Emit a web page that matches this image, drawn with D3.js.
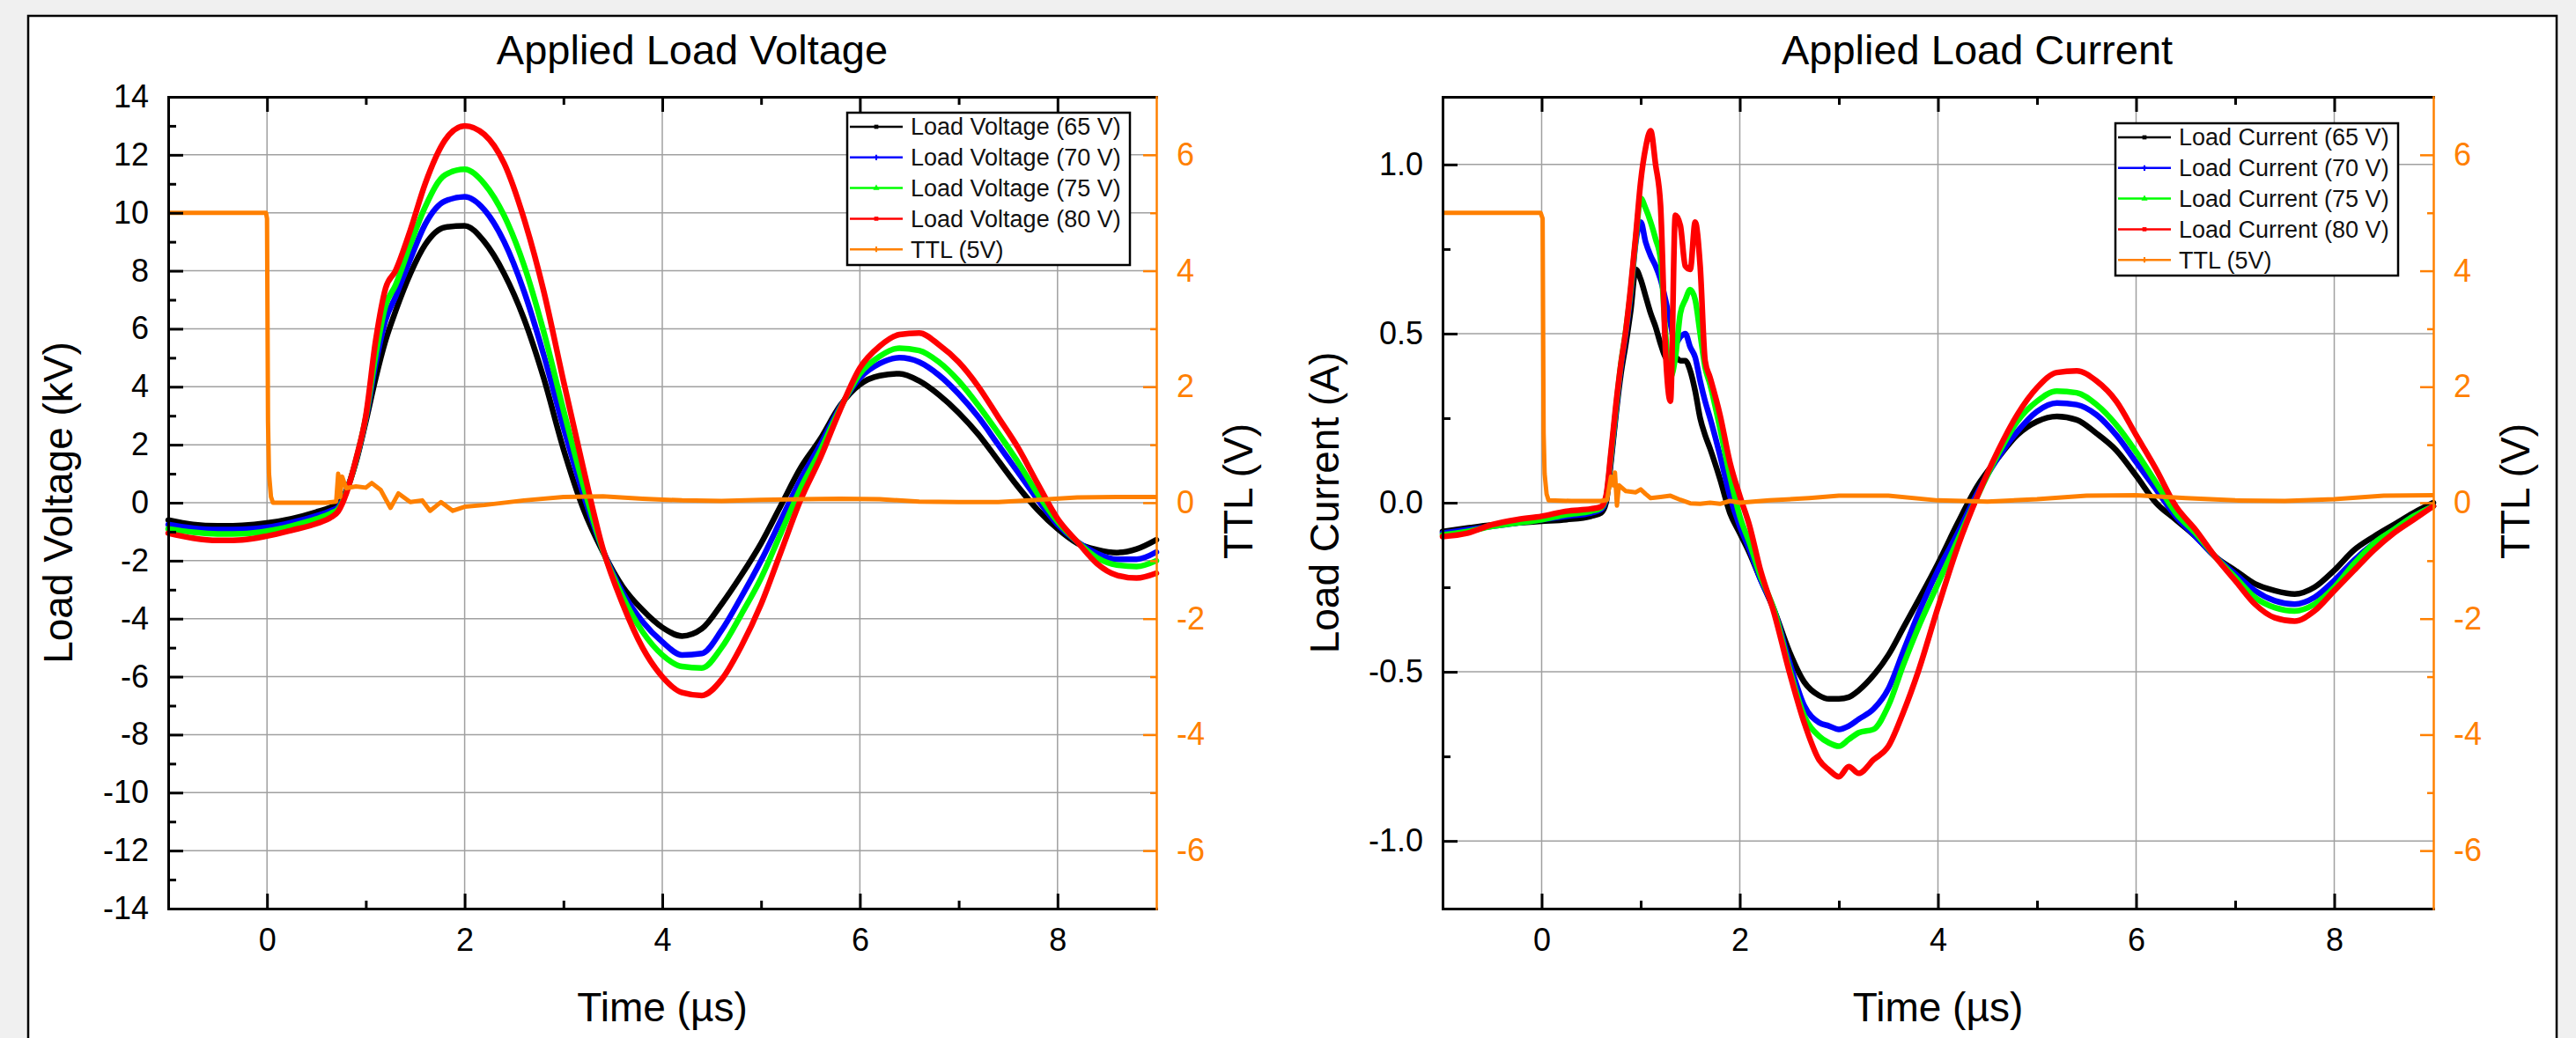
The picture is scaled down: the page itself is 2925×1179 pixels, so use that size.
<!DOCTYPE html>
<html>
<head>
<meta charset="utf-8">
<script src="https://cdn.jsdelivr.net/npm/d3@7"></script>
<style>
body { margin: 0; background: #f0f0f0; }
svg { display: block; }
</style>
</head>
<body>
<svg id="chart" width="2925" height="1179"></svg>
<script>
// ---- voltage panel data (time in us, voltage in kV) ----
var timeV = [-1, -0.75, -0.5, -0.25, 0, 0.25, 0.5, 0.65, 0.72, 0.8, 0.9, 1.0, 1.1, 1.2, 1.3, 1.45, 1.6, 1.8,
  2.0, 2.2, 2.4, 2.6, 2.8, 3.0, 3.2, 3.4, 3.6, 3.8, 4.0, 4.2, 4.4, 4.6, 4.8, 5.0, 5.2, 5.4, 5.6, 5.8,
  6.0, 6.2, 6.4, 6.6, 6.8, 7.0, 7.2, 7.4, 7.6, 7.8, 8.0, 8.2, 8.4, 8.6, 8.8, 9.0];
var volt65 = [-0.6, -0.75, -0.8, -0.78, -0.7, -0.55, -0.32, -0.15, -0.05, 0.4, 1.4, 2.8, 4.3, 5.6, 6.6, 7.9, 8.9, 9.5,
  9.55, 9.0, 7.9, 6.35, 4.3, 1.85, -0.2, -1.7, -2.9, -3.7, -4.3, -4.6, -4.35, -3.5, -2.5, -1.4, -0.1, 1.2, 2.2, 3.35,
  4.08, 4.38, 4.45, 4.2, 3.72, 3.1, 2.35, 1.45, 0.55, -0.25, -0.9, -1.4, -1.62, -1.72, -1.6, -1.28];
var volt70 = [-0.75, -0.88, -0.93, -0.92, -0.85, -0.68, -0.45, -0.27, -0.15, 0.37, 1.45, 2.9, 4.8, 6.3, 7.1, 8.4, 9.6, 10.4,
  10.55, 10.1, 9.0, 7.3, 5.1, 2.6, 0.3, -1.65, -3.1, -4.1, -4.8, -5.25, -5.2, -4.4, -3.25, -2.0, -0.6, 0.8, 2.0, 3.3,
  4.3, 4.8, 5.0, 4.85, 4.4, 3.75, 2.95, 2.0, 1.05, 0.1, -0.75, -1.35, -1.75, -1.95, -1.95, -1.7];
var volt75 = [-0.9, -1.02, -1.08, -1.07, -0.98, -0.8, -0.56, -0.36, -0.22, 0.34, 1.47, 2.95, 5.1, 6.8, 7.5, 8.9, 10.2, 11.3,
  11.5, 11.0, 9.9, 8.2, 5.9, 3.2, 0.6, -1.65, -3.25, -4.45, -5.25, -5.65, -5.7, -5.0, -3.85, -2.6, -1.05, 0.5, 1.8, 3.25,
  4.45, 5.05, 5.33, 5.25, 4.85, 4.2, 3.35, 2.4, 1.4, 0.3, -0.65, -1.35, -1.9, -2.15, -2.2, -2.0];
var volt80 = [-1.05, -1.22, -1.3, -1.28, -1.15, -0.95, -0.72, -0.5, -0.3, 0.3, 1.5, 3.0, 5.6, 7.4, 8.0, 9.4, 11.0, 12.5,
  13.0, 12.7, 11.7, 9.8, 7.3, 4.2, 1.2, -1.6, -3.5, -5.0, -6.0, -6.55, -6.65, -6.1, -4.95, -3.5, -1.7, 0.1, 1.55, 3.2,
  4.65, 5.4, 5.8, 5.85, 5.45, 4.85, 4.0, 2.95, 1.9, 0.65, -0.55, -1.35, -2.1, -2.5, -2.6, -2.43];
var ttlTimeV = [-1, -0.01, 0.0, 0.01, 0.02, 0.04, 0.06, 0.3, 0.6, 0.7, 0.72, 0.74, 0.76, 0.8, 0.9,
  1.0, 1.06, 1.15, 1.25, 1.33, 1.45, 1.57, 1.65, 1.76, 1.88, 2.0, 2.2, 2.6, 3.0, 3.4, 3.8, 4.2, 4.6, 5.0, 5.4,
  5.8, 6.2, 6.6, 7.0, 7.4, 7.8, 8.2, 8.6, 9.0];
var ttlV = [5.0, 5.0, 4.9, 1.4, 0.5, 0.1, 0.0, 0.0, 0.0, 0.02, 0.5, 0.1, 0.45, 0.25, 0.28,
  0.26, 0.34, 0.22, -0.09, 0.16, 0.01, 0.04, -0.14, 0.01, -0.14, -0.07, -0.04, 0.04, 0.1, 0.11, 0.07, 0.04, 0.03, 0.05, 0.06,
  0.07, 0.06, 0.02, 0.01, 0.01, 0.05, 0.09, 0.1, 0.1];

// ---- current panel data (time in us, current in A) ----
var timeI = [-1, -0.75, -0.5, -0.25, 0, 0.25, 0.5,
  0.6, 0.65, 0.7, 0.75, 0.8, 0.85, 0.9, 0.95, 1.0, 1.05, 1.1, 1.15, 1.2, 1.25, 1.3, 1.35, 1.4, 1.45, 1.5, 1.55, 1.6, 1.65, 1.7,
  1.8, 1.9, 2.0, 2.1, 2.2, 2.35, 2.5, 2.65, 2.8, 2.9, 3.0, 3.1, 3.2, 3.35, 3.5, 3.65, 3.8,
  4.0, 4.2, 4.4, 4.6, 4.8, 5.0, 5.2, 5.4, 5.6, 5.8, 6.0, 6.2, 6.4, 6.6, 6.8, 7.0, 7.2, 7.4, 7.6, 7.8, 8.0, 8.2, 8.4, 8.6, 8.8, 9.0];
var curr65 = [-0.085, -0.075, -0.066, -0.06, -0.055, -0.05, -0.04,
  -0.03, 0.0, 0.12, 0.26, 0.38, 0.47, 0.57, 0.69, 0.66, 0.61, 0.56, 0.52, 0.47, 0.43, 0.42, 0.43, 0.42, 0.42, 0.39, 0.33, 0.25, 0.2, 0.16,
  0.07, -0.03, -0.09, -0.15, -0.22, -0.32, -0.44, -0.53, -0.57, -0.58, -0.58, -0.575, -0.555, -0.51, -0.45, -0.37, -0.29,
  -0.18, -0.06, 0.05, 0.13, 0.2, 0.24, 0.255, 0.245, 0.205, 0.155, 0.08, 0.0, -0.05, -0.1, -0.16, -0.2, -0.24, -0.26, -0.27, -0.25, -0.2, -0.14, -0.1, -0.065, -0.03, 0.0];
var curr70 = [-0.09, -0.08, -0.07, -0.06, -0.05, -0.04, -0.03,
  -0.02, 0.01, 0.13, 0.27, 0.4, 0.5, 0.62, 0.77, 0.83, 0.77, 0.73, 0.7, 0.66, 0.6, 0.53, 0.47, 0.49, 0.5, 0.46, 0.43, 0.36, 0.3, 0.25,
  0.14, 0.02, -0.07, -0.14, -0.22, -0.32, -0.47, -0.6, -0.65, -0.66, -0.67, -0.66, -0.64, -0.61, -0.55, -0.44, -0.33,
  -0.2, -0.09, 0.03, 0.13, 0.21, 0.27, 0.295, 0.29, 0.26, 0.2, 0.12, 0.04, -0.04, -0.1, -0.16, -0.21, -0.26, -0.29, -0.3, -0.28, -0.23, -0.17, -0.12, -0.08, -0.04, -0.01];
var curr75 = [-0.095, -0.085, -0.07, -0.06, -0.05, -0.035, -0.025,
  -0.015, 0.015, 0.14, 0.28, 0.41, 0.51, 0.63, 0.78, 0.9, 0.87, 0.83, 0.78, 0.72, 0.5, 0.37, 0.43, 0.56, 0.6, 0.63, 0.6, 0.5, 0.4, 0.35,
  0.22, 0.08, -0.04, -0.12, -0.21, -0.32, -0.49, -0.63, -0.69, -0.71, -0.72, -0.7, -0.68, -0.67, -0.6, -0.48, -0.37,
  -0.24, -0.11, 0.02, 0.14, 0.24, 0.3, 0.33, 0.325, 0.29, 0.23, 0.15, 0.06, -0.03, -0.09, -0.16, -0.22, -0.28, -0.31, -0.32, -0.3, -0.25, -0.18, -0.12, -0.08, -0.04, -0.01];
var curr80 = [-0.10, -0.09, -0.065, -0.05, -0.04, -0.025, -0.018,
  -0.012, 0.02, 0.15, 0.29, 0.41, 0.51, 0.64, 0.79, 0.95, 1.05, 1.1, 1.0, 0.88, 0.45, 0.3, 0.85, 0.82, 0.7, 0.69, 0.83, 0.7, 0.42, 0.37,
  0.26, 0.12, 0.02, -0.07, -0.19, -0.33, -0.5, -0.65, -0.76, -0.79, -0.81, -0.78, -0.8, -0.76, -0.72, -0.62, -0.5,
  -0.31, -0.13, 0.02, 0.15, 0.26, 0.34, 0.385, 0.39, 0.36, 0.3, 0.2, 0.1, -0.01, -0.08, -0.16, -0.23, -0.3, -0.34, -0.35, -0.32, -0.26, -0.2, -0.14, -0.09, -0.05, -0.01];
var ttlTimeI = [-1, -0.01, 0.01, 0.02, 0.03, 0.05, 0.07, 0.3, 0.6, 0.66, 0.7, 0.72, 0.74, 0.76, 0.78,
  0.85, 0.95, 1.0, 1.05, 1.1, 1.2, 1.3, 1.4, 1.5, 1.6, 1.7, 1.8, 1.9, 2.0, 2.3, 2.7, 3.0, 3.5, 4.0, 4.5,
  5.0, 5.5, 6.0, 6.5, 7.0, 7.5, 8.0, 8.5, 9.0];
var ttlI = [5.0, 5.0, 4.9, 1.2, 0.5, 0.15, 0.04, 0.03, 0.03, 0.05, 0.45, 0.3, 0.52, -0.05, 0.3,
  0.2, 0.18, 0.23, 0.15, 0.08, 0.1, 0.12, 0.05, -0.01, -0.02, 0.0, -0.02, 0.03, 0.0, 0.04, 0.08, 0.12, 0.12, 0.04, 0.02,
  0.06, 0.12, 0.13, 0.08, 0.04, 0.03, 0.06, 0.12, 0.13];

// ---- axes, ticks, labels ----
var timeDomain = [-1, 9];
var timeTicks = [0, 2, 4, 6, 8];
var timeMinor = [1, 3, 5, 7];
var ttlDomain = [-7, 7];
var ttlTicks = [-6, -4, -2, 0, 2, 4, 6];
var ttlMinor = [-5, -3, -1, 1, 3, 5];
var voltTicks = [-14, -12, -10, -8, -6, -4, -2, 0, 2, 4, 6, 8, 10, 12, 14];
var voltMinor = [-13, -11, -9, -7, -5, -3, -1, 1, 3, 5, 7, 9, 11, 13];
var currTicks = [-1.0, -0.5, 0.0, 0.5, 1.0];
var currMinor = [-0.75, -0.25, 0.25, 0.75];
var colors = ["#000000", "#0000ff", "#00ff00", "#ff0000"];
var ttlColor = "#ff8000";
var voltNames = ["Load Voltage (65 V)", "Load Voltage (70 V)", "Load Voltage (75 V)", "Load Voltage (80 V)", "TTL (5V)"];
var currNames = ["Load Current (65 V)", "Load Current (70 V)", "Load Current (75 V)", "Load Current (80 V)", "TTL (5V)"];

var FONT = "'Liberation Sans', Arial, Helvetica, sans-serif";
var plotTop = 110, plotBottom = 1032;

var svg = d3.select("#chart");

// outer frame
svg.append("rect").attr("x", 32).attr("y", 18).attr("width", 2871).attr("height", 1200)
  .attr("fill", "#fff").attr("stroke", "#000").attr("stroke-width", 2.5);

function styleAxis(sel, color, width, fontSize) {
  sel.attr("font-family", FONT).attr("font-size", fontSize);
  sel.select(".domain").attr("stroke", color).attr("stroke-width", width).attr("stroke-linecap", "square");
  sel.selectAll(".tick line").attr("stroke", color).attr("stroke-width", width);
  sel.selectAll(".tick text").attr("fill", color);
}

function drawPanel(p) {
  var x = d3.scaleLinear().domain(timeDomain).range([p.left, p.right]);
  var y = d3.scaleLinear().domain(p.yDomain).range([plotBottom, plotTop]);
  var yT = d3.scaleLinear().domain(ttlDomain).range([plotBottom, plotTop]);
  var g = svg.append("g");

  // grid
  g.append("g").selectAll("line").data(timeTicks).join("line")
    .attr("x1", function(d){ return x(d); }).attr("x2", function(d){ return x(d); })
    .attr("y1", plotTop).attr("y2", plotBottom)
    .attr("stroke", "#a0a0a0").attr("stroke-width", 1.5);
  g.append("g").selectAll("line").data(p.yTicks).join("line")
    .attr("x1", p.left).attr("x2", p.right)
    .attr("y1", function(d){ return y(d); }).attr("y2", function(d){ return y(d); })
    .attr("stroke", "#a0a0a0").attr("stroke-width", 1.5);

  // load curves
  var line = d3.line()
    .x(function(d, i){ return x(p.time[i]); })
    .y(function(d){ return y(d); })
    .curve(d3.curveMonotoneX);
  p.series.forEach(function(s, k){
    g.append("path").attr("d", line(s)).attr("fill", "none")
      .attr("stroke", colors[k]).attr("stroke-width", 6.5)
      .attr("stroke-linejoin", "round").attr("stroke-linecap", "round");
  });

  // TTL trace
  var ttlLine = d3.line()
    .x(function(d, i){ return x(p.ttlTime[i]); })
    .y(function(d){ return yT(d); });
  g.append("path").attr("d", ttlLine(p.ttl)).attr("fill", "none")
    .attr("stroke", ttlColor).attr("stroke-width", 5).attr("stroke-linejoin", "round");

  // axes
  var bottom = g.append("g").attr("transform", "translate(0," + plotBottom + ")")
    .call(d3.axisBottom(x).tickValues(timeTicks).tickSizeInner(-17).tickSizeOuter(0).tickPadding(22)
      .tickFormat(function(d){ return String(d); }));
  styleAxis(bottom, "#000", 3, 36);
  var bottomMinor = g.append("g").attr("transform", "translate(0," + plotBottom + ")")
    .call(d3.axisBottom(x).tickValues(timeMinor).tickSizeInner(-9).tickSizeOuter(0).tickFormat(""));
  bottomMinor.select(".domain").remove();
  styleAxis(bottomMinor, "#000", 3, 36);

  var top = g.append("g").attr("transform", "translate(0," + plotTop + ")")
    .call(d3.axisTop(x).tickValues(timeTicks).tickSizeInner(-17).tickSizeOuter(0).tickFormat(""));
  styleAxis(top, "#000", 3, 36);
  var topMinor = g.append("g").attr("transform", "translate(0," + plotTop + ")")
    .call(d3.axisTop(x).tickValues(timeMinor).tickSizeInner(-9).tickSizeOuter(0).tickFormat(""));
  topMinor.select(".domain").remove();
  styleAxis(topMinor, "#000", 3, 36);

  var left = g.append("g").attr("transform", "translate(" + p.left + ",0)")
    .call(d3.axisLeft(y).tickValues(p.yTicks).tickSizeInner(-17).tickSizeOuter(0).tickPadding(22)
      .tickFormat(p.yFormat));
  styleAxis(left, "#000", 3, 36);
  var leftMinor = g.append("g").attr("transform", "translate(" + p.left + ",0)")
    .call(d3.axisLeft(y).tickValues(p.yMinor).tickSizeInner(-9).tickSizeOuter(0).tickFormat(""));
  leftMinor.select(".domain").remove();
  styleAxis(leftMinor, "#000", 3, 36);

  var right = g.append("g").attr("transform", "translate(" + p.right + ",0)")
    .call(d3.axisRight(yT).tickValues(ttlTicks).tickSizeInner(-15).tickSizeOuter(0).tickPadding(23)
      .tickFormat(function(d){ return String(d); }));
  styleAxis(right, ttlColor, 2.5, 36);
  var rightMinor = g.append("g").attr("transform", "translate(" + p.right + ",0)")
    .call(d3.axisRight(yT).tickValues(ttlMinor).tickSizeInner(-7).tickSizeOuter(0).tickFormat(""));
  rightMinor.select(".domain").remove();
  styleAxis(rightMinor, ttlColor, 2.5, 36);

  // titles and axis labels
  g.append("text").attr("x", p.titleX).attr("y", 73).attr("text-anchor", "middle")
    .attr("font-family", FONT).attr("font-size", 47).text(p.title);
  g.append("text").attr("x", (p.left + p.right) / 2).attr("y", 1160).attr("text-anchor", "middle")
    .attr("font-family", FONT).attr("font-size", 46).text("Time (µs)");
  g.append("text").attr("transform", "translate(" + p.yLabelX + "," + 571 + ") rotate(-90)")
    .attr("text-anchor", "middle").attr("font-family", FONT).attr("font-size", 46).text(p.yLabel);
  g.append("text").attr("transform", "translate(" + (p.right + 109) + "," + 558 + ") rotate(-90)")
    .attr("text-anchor", "middle").attr("font-family", FONT).attr("font-size", 46).text("TTL (V)");

  // legend
  var lg = g.append("g").attr("transform", "translate(" + p.legendX + "," + p.legendY + ")");
  lg.append("rect").attr("width", 321).attr("height", 173)
    .attr("fill", "#fff").attr("stroke", "#000").attr("stroke-width", 2.5);
  var legColors = colors.concat([ttlColor]);
  var symbols = [d3.symbolSquare, d3.symbolCross, d3.symbolTriangle, d3.symbolSquare, d3.symbolCross];
  p.names.forEach(function(name, k){
    var cy = 16 + k * 34.8;
    lg.append("line").attr("x1", 3).attr("x2", 63).attr("y1", cy).attr("y2", cy)
      .attr("stroke", legColors[k]).attr("stroke-width", 2.5);
    lg.append("path").attr("d", d3.symbol().type(symbols[k]).size(22)())
      .attr("transform", "translate(33," + cy + ")").attr("fill", legColors[k]);
    lg.append("text").attr("x", 72).attr("y", cy).attr("dy", "0.35em")
      .attr("font-family", FONT).attr("font-size", 27).attr("fill", "#111").text(name);
  });
}

drawPanel({
  left: 191, right: 1313,
  yDomain: [-14, 14], yTicks: voltTicks, yMinor: voltMinor,
  yFormat: function(d){ return String(d); },
  time: timeV, series: [volt65, volt70, volt75, volt80],
  ttlTime: ttlTimeV, ttl: ttlV,
  title: "Applied Load Voltage", titleX: 786,
  yLabel: "Load Voltage (kV)", yLabelX: 82,
  legendX: 962, legendY: 128, names: voltNames
});

drawPanel({
  left: 1638, right: 2763,
  yDomain: [-1.2, 1.2], yTicks: currTicks, yMinor: currMinor,
  yFormat: function(d){ return d.toFixed(1); },
  time: timeI, series: [curr65, curr70, curr75, curr80],
  ttlTime: ttlTimeI, ttl: ttlI,
  title: "Applied Load Current", titleX: 2245,
  yLabel: "Load Current (A)", yLabelX: 1520,
  legendX: 2402, legendY: 140, names: currNames
});
</script>
</body>
</html>
